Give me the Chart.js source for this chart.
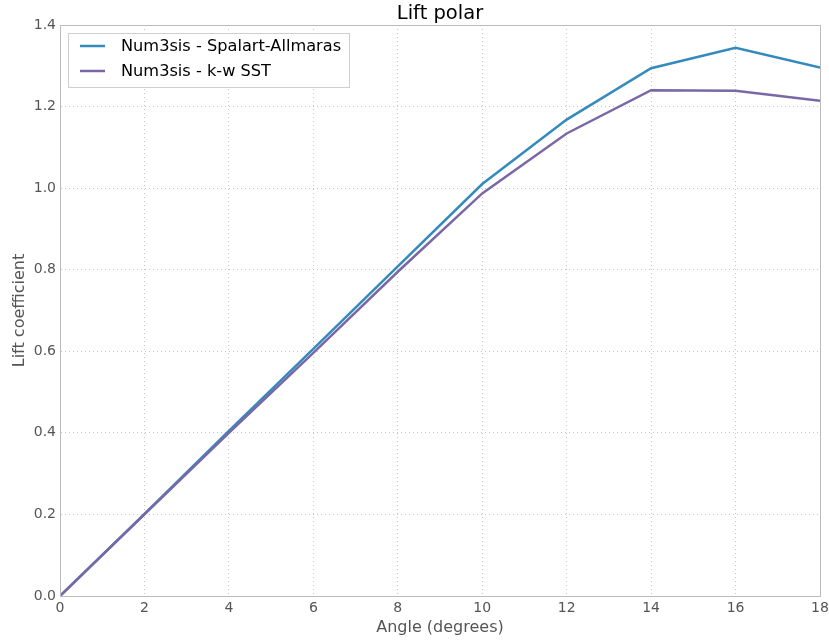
<!DOCTYPE html>
<html>
<head>
<meta charset="utf-8">
<script src="https://cdn.jsdelivr.net/npm/chart.js@4"></script>
<style>
html,body{margin:0;padding:0;background:#fff;}
#wrap{width:829px;height:642px;}
</style>
</head>
<body>
<div id="wrap"><canvas id="c" width="829" height="642"></canvas></div>
<script>
const angles = [0, 2, 4, 6, 8, 10, 12, 14, 16, 18];
const spalartAllmaras = [0, 0.201, 0.405, 0.606, 0.808, 1.010, 1.168, 1.294, 1.344, 1.296];
const kwSST = [0, 0.200, 0.400, 0.596, 0.795, 0.987, 1.134, 1.240, 1.239, 1.214];
const seriesLabels = ['Num3sis - Spalart-Allmaras', 'Num3sis - k-w SST'];
const xTicks = [0, 2, 4, 6, 8, 10, 12, 14, 16, 18];
const yTicks = [0.0, 0.2, 0.4, 0.6, 0.8, 1.0, 1.2, 1.4];

const FONT = "'DejaVu Sans', sans-serif";

const overlay = {
  id: 'overlay',
  afterDraw(chart) {
    const ctx = chart.ctx, a = chart.chartArea;
    ctx.save();
    // title
    ctx.fillStyle = '#000';
    ctx.font = "19.5px " + FONT;
    ctx.textAlign = 'center';
    ctx.textBaseline = 'middle';
    ctx.fillText('Lift polar', (a.left + a.right) / 2, 14);
    // legend
    const bx = a.left + 8, by = a.top + 8, bw = 281, bh = 54;
    ctx.fillStyle = '#fff';
    ctx.fillRect(bx, by, bw, bh);
    ctx.strokeStyle = '#cfcfcf';
    ctx.lineWidth = 1;
    ctx.strokeRect(bx + 0.5, by + 0.5, bw, bh);
    ctx.font = "16.2px " + FONT;
    ctx.textAlign = 'left';
    chart.data.datasets.forEach((ds, i) => {
      const y = by + 13 + i * 25;
      ctx.strokeStyle = ds.borderColor;
      ctx.lineWidth = 2.5;
      ctx.beginPath();
      ctx.moveTo(bx + 12, y);
      ctx.lineTo(bx + 37, y);
      ctx.stroke();
      ctx.fillStyle = '#000';
      ctx.fillText(ds.label, bx + 53, y + 1);
    });
    ctx.restore();
  }
};

new Chart(document.getElementById('c'), {
  type: 'line',
  data: {
    datasets: [
      { label: seriesLabels[0], data: angles.map((x, i) => ({ x, y: spalartAllmaras[i] })),
        borderColor: '#348ABD', borderWidth: 2.5, pointRadius: 0, tension: 0, fill: false, order: 1 },
      { label: seriesLabels[1], data: angles.map((x, i) => ({ x, y: kwSST[i] })),
        borderColor: '#7A68A6', borderWidth: 2.5, pointRadius: 0, tension: 0, fill: false, order: 0 }
    ]
  },
  options: {
    responsive: false,
    animation: false,
    devicePixelRatio: 1,
    layout: { padding: { top: 25, right: 9, left: 0, bottom: 0 } },
    plugins: { legend: { display: false }, title: { display: false }, tooltip: { enabled: false } },
    scales: {
      x: {
        type: 'linear', min: 0, max: 18,
        afterBuildTicks(s) { s.ticks = xTicks.map(v => ({ value: v })); },
        afterFit(s) { s.height = 46; s.paddingRight = 0; s.paddingLeft = 0; },
        ticks: { color: '#555', font: { family: FONT, size: 14 }, padding: 4,
                 callback: v => String(v) },
        grid: { color: '#c4c4c4', lineWidth: 1, drawTicks: false, tickLength: 0 },
        border: { color: '#bcbcbc', width: 1, dash: [1, 3] },
        title: { display: true, text: 'Angle (degrees)', color: '#555',
                 font: { family: FONT, size: 16 }, padding: { top: 0, bottom: 5 } }
      },
      y: {
        type: 'linear', min: 0, max: 1.4,
        afterBuildTicks(s) { s.ticks = yTicks.map(v => ({ value: v })); },
        afterFit(s) { s.width = 60; },
        ticks: { color: '#555', font: { family: FONT, size: 14 }, padding: 4,
                 callback: v => v.toFixed(1) },
        grid: { color: '#c4c4c4', lineWidth: 1, drawTicks: false, tickLength: 0 },
        border: { color: '#bcbcbc', width: 1, dash: [1, 3] },
        title: { display: true, text: 'Lift coefficient', color: '#555',
                 font: { family: FONT, size: 16 }, padding: { top: 10, bottom: 0 } }
      }
    }
  },
  plugins: [{
    id: 'frame',
    afterDatasetsDraw(chart) {
      const ctx = chart.ctx, a = chart.chartArea;
      ctx.save();
      ctx.strokeStyle = '#bcbcbc';
      ctx.lineWidth = 1;
      ctx.setLineDash([]);
      ctx.strokeRect(Math.round(a.left) + 0.5, Math.round(a.top) + 0.5,
                     Math.round(a.right - a.left), Math.round(a.bottom - a.top));
      ctx.restore();
    }
  }, overlay]
});
</script>
</body>
</html>
